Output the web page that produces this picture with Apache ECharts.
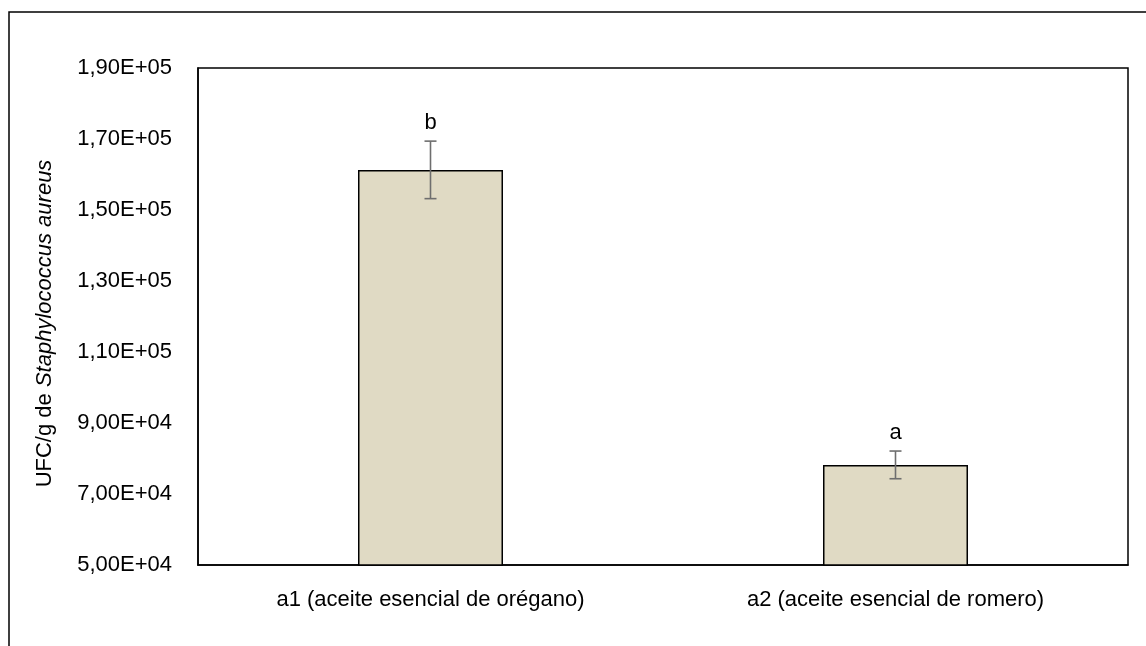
<!DOCTYPE html>
<html>
<head>
<meta charset="utf-8">
<script src="https://cdn.jsdelivr.net/npm/echarts@6/dist/echarts.min.js"></script>
<style>
  html, body { margin: 0; padding: 0; background: #fff; }
  #chart { width: 1146px; height: 646px; }
</style>
</head>
<body>
<div id="chart"></div>
<script>
// Treatments and mean counts (UFC/g) with their error half-widths
var categories = ['a1 (aceite esencial de orégano)', 'a2 (aceite esencial de romero)'];
var means = [161300, 78200];
var errors = [8100, 3900];
var letters = ['b', 'a'];

// Y axis range and step
var yMin = 50000;
var yMax = 190000;
var yStep = 20000;

function sciComma(v) {
  var exp = Math.floor(Math.log10(v));
  var mant = (v / Math.pow(10, exp)).toFixed(2).replace('.', ',');
  var e = (exp < 10 ? '0' : '') + exp;
  return mant + 'E+' + e;
}

var chart = echarts.init(document.getElementById('chart'));
var font = 'Liberation Sans, Arial, sans-serif';
var fs = 22;

var errData = means.map(function (m, i) { return [i, m - errors[i], m + errors[i], letters[i]]; });

chart.setOption({
  animation: false,
  graphic: [{
    type: 'rect',
    shape: { x: 9, y: 12, width: 1160, height: 660 },
    style: { fill: 'none', stroke: '#000', lineWidth: 1.5 },
    silent: true
  }],
  grid: {
    left: 198, top: 68, right: 18, bottom: 81,
    show: true, borderColor: '#000', borderWidth: 1.5, backgroundColor: 'transparent'
  },
  xAxis: {
    type: 'category',
    data: categories,
    axisLine: { show: true, lineStyle: { color: '#000', width: 1.5 } },
    axisTick: { show: false },
    axisLabel: { color: '#000', fontSize: fs, fontFamily: font, margin: 24 }
  },
  yAxis: {
    type: 'value',
    min: yMin, max: yMax, interval: yStep,
    splitLine: { show: false },
    axisLine: { show: true, lineStyle: { color: '#000', width: 1.5 } },
    axisTick: { show: false },
    axisLabel: { color: '#000', fontSize: fs, fontFamily: font, margin: 26, formatter: sciComma },
    name: '{n|UFC/g de }{i|Staphylococcus aureus}',
    nameLocation: 'middle',
    nameGap: 142,
    nameRotate: 90,
    nameTextStyle: {
      padding: [0, 14, 0, 0],
      rich: {
        n: { fontSize: fs, fontFamily: font, color: '#000' },
        i: { fontSize: fs, fontFamily: font, fontStyle: 'italic', color: '#000' }
      }
    }
  },
  series: [{
    type: 'bar',
    data: means,
    barWidth: 145,
    itemStyle: { color: '#e0dac4', borderColor: '#000', borderWidth: 1.5 },
    z: 2
  }, {
    type: 'custom',
    data: errData,
    z: 5,
    renderItem: function (params, api) {
      var x = api.value(0);
      var lo = api.coord([x, api.value(1)]);
      var hi = api.coord([x, api.value(2)]);
      var cx = lo[0];
      var cap = 6;
      var st = { stroke: '#6e6e6e', lineWidth: 1.6 };
      return {
        type: 'group',
        children: [
          { type: 'line', shape: { x1: cx, y1: lo[1], x2: cx, y2: hi[1] }, style: st },
          { type: 'line', shape: { x1: cx - cap, y1: lo[1], x2: cx + cap, y2: lo[1] }, style: st },
          { type: 'line', shape: { x1: cx - cap, y1: hi[1], x2: cx + cap, y2: hi[1] }, style: st },
          { type: 'text', x: cx, y: hi[1] - 7,
            style: { text: api.value(3), fill: '#000', font: fs + 'px ' + font, align: 'center', verticalAlign: 'bottom' } }
        ]
      };
    }
  }]
});
</script>
</body>
</html>
